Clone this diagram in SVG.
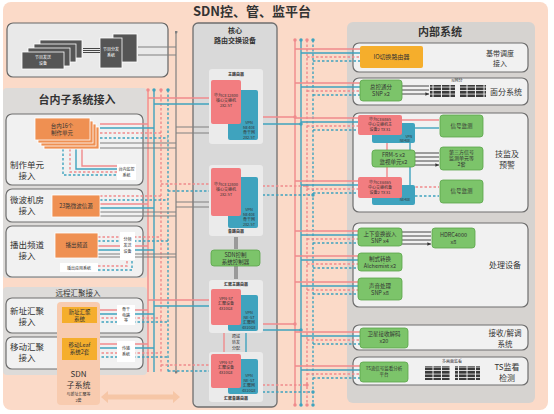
<svg xmlns="http://www.w3.org/2000/svg" width="554" height="414" viewBox="0 0 554 414">
<defs>
<style>
text{font-family:"Noto Sans CJK SC","Noto Sans",sans-serif;fill:#333;text-anchor:middle}
.ttl{font-size:13px;font-weight:bold}
.pt{font-size:11px;font-weight:bold}
.lb{font-size:8.5px}
.l7{font-size:7px}
.sm{font-size:5.5px}
.xs{font-size:4px}
.wt{fill:#fff}
.panel{fill:#dddbd9}
.sub{fill:#f1f1f1;stroke:#6e6e6e;stroke-width:1.2}
.gr{fill:#7cc46a;stroke:#5aa54a;stroke-width:0.8}
.rb{fill:#f27d80}
.tb{fill:#3fa3be}
.ob{fill:#ef9052;stroke:#fff;stroke-width:0.8}
.yb{fill:#f5ae2c}
.lt{fill:#ebebeb}
.wb{fill:#fff}
.dk{fill:#555;stroke:#fff;stroke-width:0.8}
.r,.t,.g,.k{fill:none;stroke-width:1.4}
.r{stroke:#f08a8c}
.t{stroke:#3fa3be}
.g{stroke:#808080;stroke-width:1.2}
.k{stroke:#333;stroke-width:0.9}
.d{stroke-dasharray:2.5 2}
</style>
<marker id="ak" viewBox="0 0 6 6" refX="6" refY="3" markerWidth="4" markerHeight="4" orient="auto"><path d="M0,0L6,3L0,6z" fill="#333"/></marker>
<marker id="dr" viewBox="0 0 6 6" refX="3" refY="3" markerWidth="2.5" markerHeight="2.5"><circle cx="3" cy="3" r="3" fill="#f08a8c"/></marker>
<marker id="dt" viewBox="0 0 6 6" refX="3" refY="3" markerWidth="2.5" markerHeight="2.5"><circle cx="3" cy="3" r="3" fill="#3fa3be"/></marker>
<marker id="dg" viewBox="0 0 6 6" refX="3" refY="3" markerWidth="2.5" markerHeight="2.5"><circle cx="3" cy="3" r="3" fill="#808080"/></marker>
<pattern id="gp" x="0" y="0" width="8.5" height="3.5" patternUnits="userSpaceOnUse"><rect width="7.5" height="2.7" fill="#3a3a3a"/></pattern>
</defs>

<rect x="3" y="2" width="545" height="408" rx="8" fill="#fbdac8"/>
<text class="ttl" x="252" y="16">SDN控、管、监平台</text>

<!-- top-left box -->
<g id="send">
<rect x="7" y="23" width="161" height="54" rx="6" fill="#e9e9e9" stroke="#666" stroke-width="1.2"/>
<rect class="dk" x="40" y="40" width="42" height="18"/>
<rect class="dk" x="34" y="44" width="42" height="18"/>
<rect class="dk" x="28" y="48" width="42" height="18"/>
<rect class="dk" x="22" y="52" width="42" height="17"/>
<text class="xs wt" x="43" y="59">节目发送</text><text class="xs wt" x="43" y="65">设备</text>
<rect class="dk" x="113" y="34" width="24" height="28"/>
<rect class="dk" x="100" y="38" width="22" height="30"/>
<text class="xs wt" x="111" y="51">节目分发</text><text class="xs wt" x="111" y="57">系统</text>
<path class="k" d="M83,48.5H100M83,50.5H100M83,52.5H100"/>
</g>

<!-- left panel -->
<rect class="panel" x="3" y="88" width="144" height="190" rx="4"/>
<text class="pt" x="77" y="104">台内子系统接入</text>
<g id="zhizuo">
<rect class="sub" x="6" y="114" width="137" height="71" rx="6"/>
<text class="lb" x="27" y="168">制作单元</text><text class="lb" x="27" y="179">接入</text>
</g>
<g id="weibo">
<rect class="sub" x="6" y="189" width="137" height="33" rx="6"/>
<text class="lb" x="27" y="203">微波机房</text><text class="lb" x="27" y="214">接入</text>
</g>
<g id="bochu">
<rect class="sub" x="6" y="226" width="137" height="51" rx="6"/>
<text class="lb" x="27" y="248">播出频道</text><text class="lb" x="27" y="259">接入</text>
</g>
<rect class="panel" x="3" y="287" width="144" height="88" rx="4"/>
<text x="78" y="296" style="font-size:7.5px">远程汇聚接入</text>
<g id="xinzhi">
<rect class="sub" x="6" y="298" width="137" height="35" rx="6"/>
<text class="lb" x="27" y="314">新址汇聚</text><text class="lb" x="27" y="325">接入</text>
</g>
<g id="yidong">
<rect class="sub" x="6" y="337" width="137" height="32" rx="6"/>
<text class="lb" x="27" y="350">移动汇聚</text><text class="lb" x="27" y="361">接入</text>
</g>

<!-- central panel -->
<rect x="193" y="23" width="84" height="384" rx="5" fill="#d9d9d9" stroke="#6e6e6e" stroke-width="1.3"/>
<text class="l7" x="235" y="33" style="font-weight:bold">核心</text>
<text class="l7" x="235" y="43" style="font-weight:bold">路由交换设备</text>

<!-- right panel -->
<rect x="347" y="22" width="188" height="381" rx="6" fill="#d6d3d0"/>
<text class="pt" x="440" y="36">内部系统</text>
<rect class="sub" x="353" y="43" width="175" height="29" rx="6"/>
<rect class="sub" x="353" y="78" width="175" height="27" rx="6"/>
<rect class="sub" x="353" y="113" width="175" height="99" rx="6"/>
<rect class="sub" x="353" y="223" width="175" height="84" rx="6"/>
<rect class="sub" x="353" y="325" width="175" height="25" rx="6"/>
<rect class="sub" x="353" y="357" width="175" height="28" rx="6"/>
<text class="l7" x="500" y="56">基带调度</text><text class="l7" x="500" y="66">接入</text>
<text class="lb" x="506" y="95" style="font-size:8px">面分系统</text>
<text class="lb" x="507" y="157" style="font-size:8px">技监及</text><text class="lb" x="507" y="168" style="font-size:8px">预警</text>
<text class="lb" x="505" y="268" style="font-size:8px">处理设备</text>
<text class="lb" x="505" y="336" style="font-size:7.5px">接收/解调</text><text class="lb" x="505" y="347" style="font-size:7.5px">系统</text>
<text class="lb" x="507" y="370" style="font-size:8px">TS监看</text><text class="lb" x="507" y="381" style="font-size:8px">检测</text>

<!-- connectors -->
<g id="connectors">
<!-- left bus -->
<path class="r" d="M148,90V372" marker-start="url(#dr)"/>
<path class="t" d="M154,90V372" marker-start="url(#dt)"/>
<path class="r d" d="M161,90V372" marker-start="url(#dr)"/>
<path class="t d" d="M168,90V372" marker-start="url(#dt)"/>
<path class="g" d="M176,32V372" marker-start="url(#dg)" marker-end="url(#dg)"/>
<path class="g" d="M176,47H138M176,55H138"/>
<!-- 制作单元 -->
<path class="r" d="M100,124H148"/>
<path class="t" d="M100,128H154"/>
<path class="r d" d="M100,133H161"/>
<path class="t d" d="M100,138H168"/>
<path class="g" d="M100,143H176M100,148H176"/>
<path class="t d" d="M63,149V175H117"/>
<path class="r d" d="M70,149V172H117"/>
<path class="t" d="M76,149V169H117"/>
<path class="r" d="M82,149V166H117"/>
<!-- 微波 -->
<path class="r d" d="M100,196H161"/>
<path class="t d" d="M100,200H168"/>
<path class="r" d="M100,204H148"/>
<path class="t" d="M100,208H154"/>
<path class="g" d="M100,212H176M100,216H176"/>
<!-- 播出 -->
<path class="r d" d="M98,237H161"/>
<path class="t d" d="M98,241H168"/>
<path class="r" d="M98,246H148"/>
<path class="t" d="M98,250H154"/>
<path class="g" d="M98,254H176M98,257H176"/>
<path class="r d" d="M98,266H127V260"/>
<path class="t d" d="M98,270H132V260"/>
<!-- 新址 -->
<path class="r" d="M97,310H148"/>
<path class="t" d="M97,314H154"/>
<path class="r d" d="M97,318H161"/>
<path class="t d" d="M97,322H168"/>
<!-- 移动 -->
<path class="r" d="M97,344H148"/>
<path class="t" d="M97,348H154"/>
<path class="r d" d="M97,353H161"/>
<path class="t d" d="M97,357H168"/>
<!-- left bus to core -->
<path class="r" d="M148,98H211" marker-end="url(#dr)"/>
<path class="t" d="M154,104H211" marker-end="url(#dt)"/>
<path class="g" d="M176,127H211M176,133H211"/>
<path class="r d" d="M161,184H211" marker-end="url(#dr)"/>
<path class="t d" d="M168,191H211" marker-end="url(#dt)"/>
<path class="g" d="M176,202H211M176,207H211"/>
<path class="r" d="M148,300H211" marker-end="url(#dr)"/>
<path class="t" d="M154,306H211" marker-end="url(#dt)"/>
<path class="r d" d="M161,365H211" marker-end="url(#dr)"/>
<path class="t d" d="M168,371H211" marker-end="url(#dt)"/>
<!-- right bus -->
<path class="r" d="M295,40V405" marker-start="url(#dr)" marker-end="url(#dr)"/>
<path class="t" d="M301,40V405" marker-start="url(#dt)" marker-end="url(#dt)"/>
<path class="r d" d="M307,40V405" marker-start="url(#dr)" marker-end="url(#dr)"/>
<path class="t d" d="M313,40V405" marker-start="url(#dt)" marker-end="url(#dt)"/>
<!-- core to right bus -->
<path class="r" d="M258,117H295" marker-end="url(#dr)"/>
<path class="t" d="M258,124H301" marker-end="url(#dt)"/>
<path class="r d" d="M258,186H307" marker-end="url(#dr)"/>
<path class="t d" d="M258,195H313" marker-end="url(#dt)"/>
<path class="r" d="M258,324H295" marker-end="url(#dr)"/>
<path class="t" d="M258,330H301" marker-end="url(#dt)"/>
<path class="r d" d="M258,385H307" marker-end="url(#dr)"/>
<path class="t d" d="M258,392H313" marker-end="url(#dt)"/>
<!-- right bus to internal -->
<path class="r" d="M295,49H360M295,83H360M295,118H358M295,181H358M295,231H358M295,256H358M295,282H358M295,332H360M295,366H360"/>
<path class="t" d="M301,53H360M301,87H360M301,122H358M301,185H358M301,235H358M301,260H358M301,286H358M301,336H360M301,370H360"/>
<path class="r d" d="M307,57H360M307,91H360M307,126H358M307,189H358M307,239H358M307,264H358M307,290H358M307,340H360M307,374H360"/>
<path class="t d" d="M313,61H360M313,95H360M313,130H358M313,193H358M313,243H358M313,268H358M313,294H358M313,344H360M313,378H360"/>
<!-- internal -->
<path class="k" d="M402,86H429M402,90H429M402,94H429" marker-end="url(#ak)"/>
<path class="r" d="M402,120H439"/>
<path class="t" d="M415,128H439"/>
<path class="r d" d="M402,187H439"/>
<path class="t d" d="M415,196H439"/>
<path class="r" d="M387,135V150M387,167V177"/>
<path class="t" d="M410,143V150M410,167V185"/>
<path class="k" d="M415,153H439M415,157H439M415,161H439M415,165H439" marker-end="url(#ak)"/>
<path class="k" d="M402,232H431M402,236H431M402,240H431M402,244H431" marker-end="url(#ak)"/>
<path class="g" d="M236,237V249M236,266V279" style="stroke:#9a9a9a;stroke-width:4"/>
<path class="r" d="M224,330V356" marker-start="url(#dr)" marker-end="url(#dr)"/>
<path class="t" d="M246,331V358" marker-start="url(#dt)" marker-end="url(#dt)"/>
</g>

<!-- left nodes -->
<g id="zhizuo-unit">
<rect class="ob" x="44" y="127" width="55" height="22"/>
<rect class="ob" x="41" y="124" width="55" height="22"/>
<rect class="ob" x="38" y="121" width="55" height="22"/>
<rect class="ob" x="35" y="118" width="55" height="22"/>
<text class="sm" x="62" y="128">台内16个</text><text class="sm" x="62" y="135">制作单元</text>
</g>
<g id="jiankong"><rect class="wb" x="117" y="164" width="19" height="16"/><text class="xs" x="126.5" y="171">台内监控</text><text class="xs" x="126.5" y="176.5">系统</text></g>
<g id="weibo-src"><rect class="ob" x="52" y="195" width="48" height="22"/><text class="sm" x="76" y="208">23路微波信源</text></g>
<g id="pindao"><rect class="ob" x="55" y="233" width="43" height="25"/><text class="sm" x="76.5" y="247">播出频道</text></g>
<g id="fenpin"><rect class="wb" x="120" y="232" width="15" height="28"/><text class="xs" x="127.5" y="241">分频</text><text class="xs" x="127.5" y="247">发送</text><text class="xs" x="127.5" y="253">设备</text></g>
<g id="yingyong"><rect class="wb" x="60" y="263" width="38" height="9"/><text class="xs" x="79" y="269.5">播出应用系统</text></g>
<g id="sdn-sub">
<rect x="57" y="302" width="43" height="103" rx="4" fill="#f8cbaf"/>
<text class="l7" x="78.5" y="377" style="font-size:8px">SDN</text>
<text class="l7" x="78.5" y="388" style="font-size:8px">子系统</text>
<text class="xs" x="78.5" y="396">与新址汇聚等</text>
<text class="xs" x="78.5" y="402">2套</text>
</g>
<g id="xinzhi-sys"><rect class="yb" x="62" y="307" width="35" height="16"/><text class="sm" x="79.5" y="314">新址汇聚</text><text class="sm" x="79.5" y="320.5">系统</text></g>
<g id="yidong-sys"><rect class="yb" x="62" y="338" width="35" height="22"/><text class="sm" x="79.5" y="347">移动Leaf</text><text class="sm" x="79.5" y="354">系统2套</text></g>
<g id="gugan"><rect class="wb" x="117" y="305" width="18" height="20"/><text class="xs" x="126" y="311">骨干</text><text class="xs" x="126" y="316.5">电路</text><text class="xs" x="126" y="322">等</text></g>
<g id="chuanshu"><rect class="wb" x="117" y="341" width="18" height="21"/><text class="xs" x="126" y="350">传输</text><text class="xs" x="126" y="356">系统</text></g>
<path d="M101,397L108,391V394.5H173V391L180,397L173,403V399.5H108V403Z" fill="#f6c6a6"/>

<!-- core units -->
<g id="core1">
<rect class="lt" x="209" y="69" width="54" height="75" rx="3"/>
<text class="xs" x="236" y="76" style="font-weight:bold">主路由器</text>
<rect class="tb" x="228" y="90" width="30" height="50" rx="2"/>
<rect class="rb" x="211" y="80" width="30" height="44" rx="2"/>
<text class="xs" x="226" y="97">华为CE12800</text><text class="xs" x="226" y="102">核心交换机</text><text class="xs" x="226" y="107">2x2.5T</text>
<text class="xs" x="249" y="124">VPN</text><text class="xs" x="249" y="129">NE40E</text><text class="xs" x="249" y="134">骨干网</text><text class="xs" x="249" y="139">2x2.5T</text>
</g>
<g id="core2">
<rect class="lt" x="209" y="165" width="54" height="71" rx="3"/>
<rect class="tb" x="228" y="177" width="30" height="51" rx="2"/>
<rect class="rb" x="211" y="168" width="30" height="48" rx="2"/>
<text class="xs" x="226" y="186">华为CE12800</text><text class="xs" x="226" y="191">核心交换机</text><text class="xs" x="226" y="196">2x2.5T</text>
<text class="xs" x="249" y="211">VPN</text><text class="xs" x="249" y="216">NE40E</text><text class="xs" x="249" y="221">骨干网</text><text class="xs" x="249" y="226">2x2.5T</text>
<text class="xs" x="236" y="233" style="font-weight:bold">备路由器</text>
</g>
<g id="controller"><rect class="gr" x="211" y="250" width="49" height="16" rx="3"/><text class="sm" x="235.5" y="257">SDN控制</text><text class="sm" x="235.5" y="263.5">系统控制器</text></g>
<g id="core3">
<rect class="lt" x="209" y="280" width="54" height="53" rx="3"/>
<text class="xs" x="236" y="286" style="font-weight:bold">汇聚主路由器</text>
<rect class="tb" x="228" y="295" width="30" height="36" rx="2"/>
<rect class="rb" x="211" y="289" width="30" height="36" rx="2"/>
<text class="xs" x="226" y="300">VPN-S7</text><text class="xs" x="226" y="305">汇聚设备</text><text class="xs" x="226" y="310">4x10GE</text>
<text class="xs" x="249" y="314">VPN</text><text class="xs" x="249" y="319">NE-S7</text><text class="xs" x="249" y="324">汇聚网</text><text class="xs" x="249" y="329">4x10GE</text>
</g>
<text class="xs" x="236" y="338">跨域</text><text class="xs" x="236" y="344">转发</text><text class="xs" x="236" y="350">分配</text>
<g id="core4">
<rect class="lt" x="209" y="352" width="54" height="50" rx="3"/>
<rect class="tb" x="228" y="359" width="30" height="35" rx="2"/>
<rect class="rb" x="211" y="354" width="30" height="34" rx="2"/>
<text class="xs" x="226" y="364">VPN-S7</text><text class="xs" x="226" y="369">汇聚设备</text><text class="xs" x="226" y="374">4x10GE</text>
<text class="xs" x="249" y="377">VPN</text><text class="xs" x="249" y="382">NE-S7</text><text class="xs" x="249" y="387">汇聚网</text><text class="xs" x="249" y="392">4x10GE</text>
<text class="xs" x="236" y="400" style="font-weight:bold">汇聚备路由器</text>
</g>

<!-- internal nodes -->
<g id="io"><rect class="yb" x="360" y="46" width="63" height="22" rx="2"/><text class="sm" x="391.5" y="59" style="font-size:6px">IO切换路由器</text></g>
<g id="mianfen">
<rect class="gr" x="360" y="80" width="42" height="21" rx="3"/><text class="sm" x="381" y="89">总控通分</text><text class="sm" x="381" y="96">SNP x2</text>
<text class="xs" x="457" y="82">N网分</text>
<rect x="430" y="85" width="25" height="12" fill="url(#gp)"/>
<rect x="460" y="85" width="26" height="12" fill="url(#gp)"/>
</g>
<g id="jijian">
<rect class="tb" x="372" y="123" width="43" height="20" rx="2"/>
<rect class="rb" x="358" y="115" width="44" height="20" rx="2"/>
<text class="xs" x="380" y="121">华为CE6865</text><text class="xs" x="380" y="126">中心交换机主</text><text class="xs" x="380" y="131">设备2 TX x1</text>
<text class="xs" x="409" y="138" style="font-size:3.5px">VPN</text><text class="xs" x="405" y="142" style="font-size:3.5px">NE40E</text>
<rect class="gr" x="440" y="115" width="43" height="22" rx="3"/><text class="sm" x="461.5" y="128">信号监测</text>
<rect class="gr" x="372" y="150" width="43" height="17" rx="3"/><text class="sm" x="393.5" y="157">FRM-5 x2</text><text class="sm" x="393.5" y="164">监视单元x2</text>
<rect class="gr" x="440" y="147" width="43" height="23" rx="3"/><text class="xs" x="461.5" y="154" style="font-size:5px">第三方信号</text><text class="xs" x="461.5" y="160" style="font-size:5px">监测单元等</text><text class="xs" x="461.5" y="166" style="font-size:5px">2套</text>
<rect class="tb" x="372" y="185" width="43" height="20" rx="2"/>
<rect class="rb" x="358" y="177" width="44" height="21" rx="2"/>
<text class="xs" x="380" y="184">华为CE6865</text><text class="xs" x="380" y="189">中心交换机备</text><text class="xs" x="380" y="194">设备2 TX x1</text>
<text class="xs" x="405" y="201" style="font-size:3.5px">NE40E</text>
<rect class="gr" x="440" y="180" width="43" height="23" rx="3"/><text class="sm" x="461.5" y="193">信号监测</text>
</g>
<g id="chuli">
<rect class="gr" x="358" y="228" width="44" height="18" rx="3"/><text class="sm" x="380" y="236">上下变换嵌入</text><text class="sm" x="380" y="243">SNP x4</text>
<rect class="gr" x="432" y="228" width="43" height="20" rx="3"/><text class="sm" x="453.5" y="237">HDRC4000</text><text class="sm" x="453.5" y="244">x8</text>
<rect class="gr" x="358" y="253" width="44" height="18" rx="3"/><text class="sm" x="380" y="261">制式转换</text><text class="sm" x="380" y="268">Alchemist x2</text>
<rect class="gr" x="358" y="278" width="44" height="22" rx="3"/><text class="sm" x="380" y="288">声音处理</text><text class="sm" x="380" y="295">SNP x8</text>
</g>
<g id="jieshou"><rect class="gr" x="360" y="328" width="48" height="20" rx="3"/><text class="sm" x="384" y="336">卫星接收解码</text><text class="sm" x="384" y="343">x20</text></g>
<g id="ts">
<rect class="gr" x="360" y="362" width="48" height="20" rx="3"/><text class="xs" x="384" y="370" style="font-size:4.5px">TS流信号监看分析</text><text class="xs" x="384" y="376" style="font-size:4.5px">平台</text>
<text class="xs" x="452" y="363">多画面监看</text>
<rect x="425" y="366" width="25" height="14" fill="url(#gp)"/>
<rect x="455" y="366" width="25" height="14" fill="url(#gp)"/>
</g>
</svg>
